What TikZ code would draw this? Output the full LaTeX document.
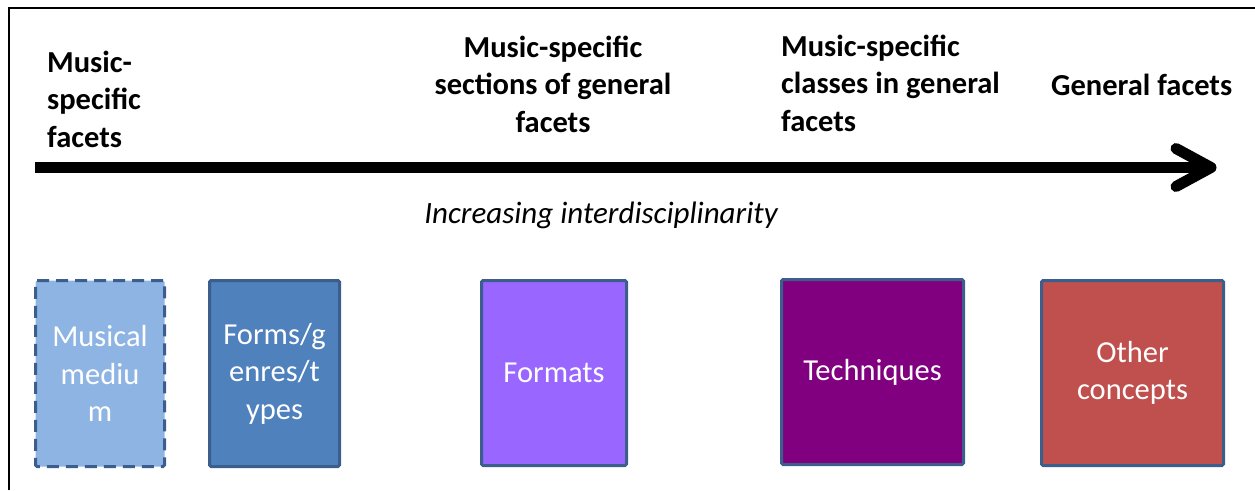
\documentclass[tikz,border=0pt]{standalone}
\usepackage{fontspec}
\setmainfont{Carlito}
\definecolor{bordblue}{HTML}{3B5E8C}
\definecolor{lightblue}{HTML}{8EB4E3}
\definecolor{midblue}{HTML}{4F81BD}
\definecolor{violetf}{HTML}{9966FF}
\definecolor{purplef}{HTML}{800080}
\definecolor{redf}{HTML}{C0504D}
\begin{document}
\begin{tikzpicture}[x=1pt,y=-1pt,
  facetbox/.style={draw=bordblue, line width=3pt, rounded corners=1.5pt, text=white,
    align=center, font=\fontsize{30.5}{37.5}\selectfont, inner sep=0pt},
  heading/.style={font=\bfseries\fontsize{30.5}{37.5}\selectfont, inner sep=0pt},
  axisline/.style={line width=11pt},
  axishead/.style={line width=11pt, line cap=round, line join=round}]
\useasboundingbox (0,0) rectangle (1255,490);
% frame
\coordinate (fbl) at (9,490);
\coordinate (ftl) at (9,8);
\coordinate (ftr) at (1255,8);
\draw[line width=2pt] (fbl) -- (ftl) -- (ftr);
% headings (anchor = baseline of last line)
\node[heading, anchor=base west, align=left] (h1) at (47,147) {Music-\\specific\\facets};
\node[heading, anchor=base, align=center] (h2) at (553,132) {Music-specific\\sections of general\\facets};
\node[heading, anchor=base west, align=left] (h3) at (781,131) {Music-specific\\classes in general\\facets};
\node[heading, anchor=base west] (h4) at (1051,95) {General facets};
% axis arrow
\coordinate (aS) at (35,167.5);
\coordinate (aE) at (1211,167.5);
\draw[axisline] (aS) -- (aE);
\draw[axishead] ([shift={(-35,-19)}]aE) -- (aE) -- ([shift={(-35,19)}]aE);
\node[font=\itshape\fontsize{31}{37.5}\selectfont, inner sep=0pt, anchor=base] (inc) at (601,223) {Increasing interdisciplinarity};
% boxes
\node[facetbox, fill=lightblue, dash pattern=on 12pt off 7pt, minimum width=129pt, minimum height=186pt] (b1) at (100,373.5) {Musical\\mediu\\m};
\node[facetbox, fill=midblue, minimum width=130pt, minimum height=186pt] (b2) at (274.5,373.5) {Forms/g\\enres/t\\ypes};
\node[facetbox, fill=violetf, minimum width=145pt, minimum height=185pt] (b3) at (554,373) {Formats};
\node[facetbox, fill=purplef, minimum width=182pt, minimum height=185pt] (b4) at (872.5,372) {Techniques};
\node[facetbox, fill=redf, minimum width=182pt, minimum height=185pt] (b5) at (1132.5,373) {Other\\concepts};
\end{tikzpicture}
\end{document}
